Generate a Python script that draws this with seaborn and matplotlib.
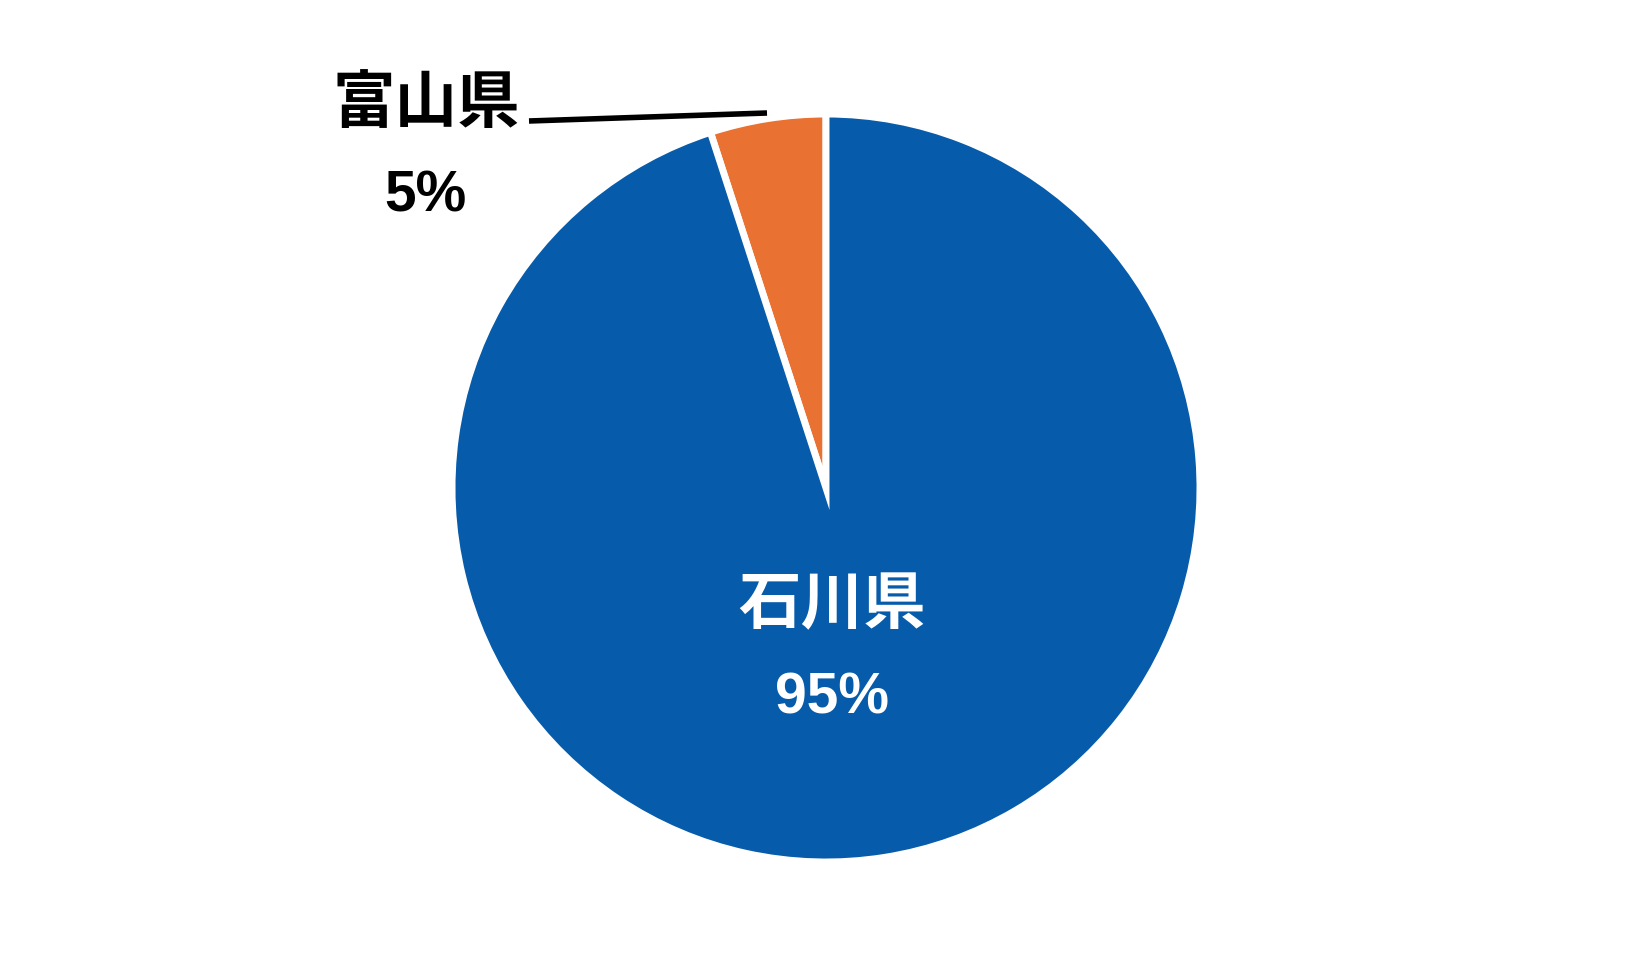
import matplotlib.pyplot as plt
import seaborn as sns

labels = ['富山県', '石川県']
shares = [5, 95]
colors = ['#E97132', '#065BAA']

sns.set_theme(style='white')
plt.rcParams['font.family'] = ['Liberation Sans', 'Noto Sans CJK JP']

W, H = 1651, 979
fig = plt.figure(figsize=(W / 100, H / 100), dpi=100)
ax = fig.add_axes([0, 0, 1, 1])

# pixel-like data coords (y flipped so 0 is at the top of the picture)
cx, cy, r = 826, H - 489, 374
ax.pie(shares, colors=colors, startangle=90, counterclock=True,
       center=(cx, cy), radius=r, frame=True,
       wedgeprops=dict(edgecolor='white', linewidth=5))
ax.set_xlim(0, W)
ax.set_ylim(0, H)
ax.set_aspect('equal')
ax.axis('off')

# 富山県 label with leader line
ax.plot([529, 767], [H - 122, H - 114], color='black', lw=4, solid_capstyle='butt')
ax.text(426, H - 106, labels[0], ha='center', va='center', fontsize=45,
        fontweight='bold', color='black')
ax.text(425, H - 196, f'{shares[0]}%', ha='center', va='center', fontsize=41,
        fontweight='bold', color='black')

# 石川県 label inside
ax.text(832, H - 607, labels[1], ha='center', va='center', fontsize=45,
        fontweight='bold', color='white')
ax.text(832, H - 699, f'{shares[1]}%', ha='center', va='center', fontsize=41,
        fontweight='bold', color='white')

fig.savefig('out.png', dpi=100, facecolor='white')
